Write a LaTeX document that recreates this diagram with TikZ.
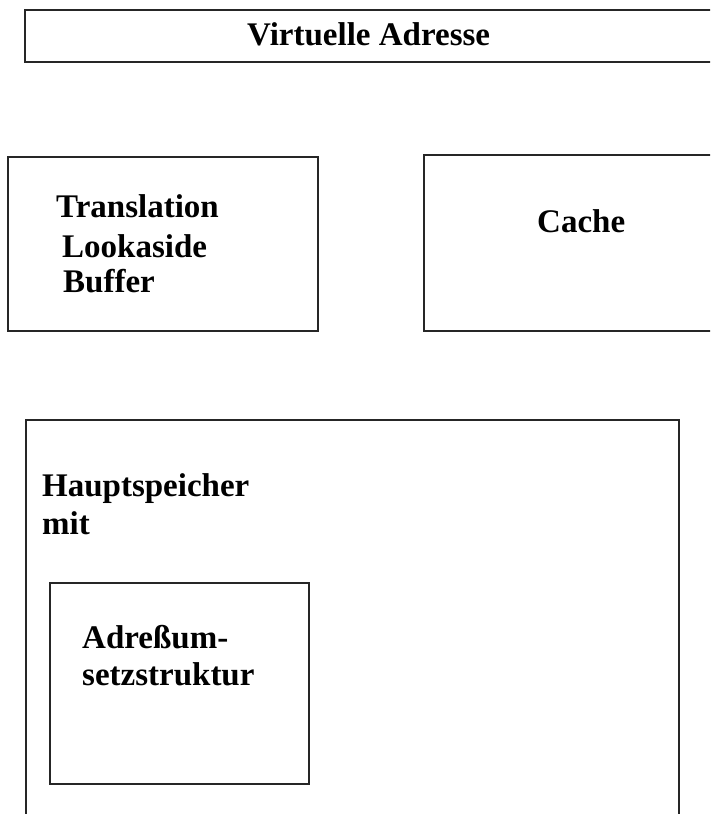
\documentclass[tikz,border=0pt]{standalone}
\usepackage{fontspec}
\setmainfont{Liberation Serif}
\begin{document}
\begin{tikzpicture}[x=1pt,y=-1pt,
  frame/.style={draw=black!85,line width=1.3pt},
  lbl/.style={font=\fontsize{33}{39}\selectfont\bfseries,inner sep=0pt,anchor=base west}]
\useasboundingbox (0,0) rectangle (710,814);
\clip (0,0) rectangle (710,814);
% frames
\draw[frame] (25,10) rectangle (720,62);
\draw[frame] (8,157) rectangle (318,331);
\draw[frame] (424,155) rectangle (720,331);
\draw[frame] (26,420) rectangle (679,830);
\draw[frame] (50,583) rectangle (309,784);
% labels
\node[lbl] (va) at (247,45) {Virtuelle Adresse};
\node[lbl] (tlb1) at (56,217) {Translation};
\node[lbl] (tlb2) at (62,257) {Lookaside};
\node[lbl] (tlb3) at (63,292) {Buffer};
\node[lbl] (cache) at (537,232) {Cache};
\node[lbl] (hs1) at (42,496) {Hauptspeicher};
\node[lbl] (hs2) at (42,534) {mit};
\node[lbl] (as1) at (82,648) {Adreßum-};
\node[lbl] (as2) at (82,685) {setzstruktur};
\end{tikzpicture}
\end{document}
